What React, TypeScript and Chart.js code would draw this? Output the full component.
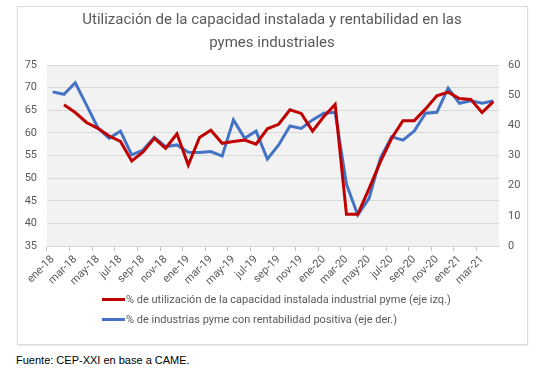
import React, { useEffect, useRef } from 'react';
import { Chart, registerables } from 'chart.js';

Chart.register(...registerables);

const categories = [
  'ene-18', 'feb-18', 'mar-18', 'abr-18', 'may-18', 'jun-18', 'jul-18', 'ago-18', 'sep-18', 'oct-18', 'nov-18', 'dic-18',
  'ene-19', 'feb-19', 'mar-19', 'abr-19', 'may-19', 'jun-19', 'jul-19', 'ago-19', 'sep-19', 'oct-19', 'nov-19', 'dic-19',
  'ene-20', 'feb-20', 'mar-20', 'abr-20', 'may-20', 'jun-20', 'jul-20', 'ago-20', 'sep-20', 'oct-20', 'nov-20', 'dic-20',
  'ene-21', 'feb-21', 'mar-21', 'abr-21',
];

// % utilización capacidad instalada (eje izq.)
const capacidad = [
  null, 66.2, 64.5, 62.3, 61.0, 59.3, 58.1, 53.8, 55.8, 58.8, 56.6, 59.8,
  52.9, 59.0, 60.6, 57.7, 58.1, 58.4, 57.5, 60.9, 61.9, 65.1, 64.3, 60.4,
  63.6, 66.3, 42.0, 42.0, 47.7, 53.6, 58.8, 62.7, 62.7, 65.3, 68.2, 69.0,
  67.6, 67.4, 64.5, 66.9,
];

// % industrias pyme con rentabilidad positiva (eje der.)
const rentabilidad = [
  51.1, 50.3, 54.1, 46.7, 39.2, 35.7, 38.1, 30.2, 31.8, 36.0, 32.9, 33.5,
  31.1, 31.0, 31.3, 29.8, 41.8, 35.7, 38.1, 28.8, 33.5, 39.8, 39.0, 41.8,
  44.0, 44.3, 20.5, 10.3, 15.8, 29.1, 36.2, 35.1, 38.1, 44.0, 44.3, 52.3,
  47.3, 48.1, 47.3, 48.1,
];

const titleLines = ['Utilización de la capacidad instalada y rentabilidad en las', 'pymes industriales'];
const legendLabels = [
  '% de utilización de la capacidad instalada industrial pyme (eje izq.)',
  '% de industrias pyme con rentabilidad positiva (eje der.)',
];
const source = 'Fuente: CEP-XXI en base a CAME.';

const RED = '#c00000';
const BLUE = '#4472c4';
const TEXT = '#595959';
const GRID = '#d9d9d9';

const bgPlugin = {
  id: 'plotBg',
  beforeDraw(chart: any) {
    const { ctx, chartArea } = chart;
    if (!chartArea) return;
    ctx.save();
    ctx.fillStyle = '#f2f2f2';
    ctx.fillRect(chartArea.left, chartArea.top, chartArea.right - chartArea.left, chartArea.bottom - chartArea.top);
    ctx.restore();
  },
};

export default function App() {
  const ref = useRef<HTMLCanvasElement | null>(null);

  useEffect(() => {
    if (!ref.current) return;
    const chart = new Chart(ref.current, {
      type: 'line',
      data: {
        labels: categories,
        datasets: [
          {
            label: legendLabels[0],
            data: capacidad,
            borderColor: RED,
            backgroundColor: RED,
            borderWidth: 3,
            pointRadius: 0,
            tension: 0,
            yAxisID: 'y',
          },
          {
            label: legendLabels[1],
            data: rentabilidad,
            borderColor: BLUE,
            backgroundColor: BLUE,
            borderWidth: 3,
            pointRadius: 0,
            tension: 0,
            yAxisID: 'y1',
          },
        ],
      },
      options: {
        animation: false,
        responsive: false,
        maintainAspectRatio: false,
        layout: { padding: 0 },
        plugins: {
          legend: { display: false },
          tooltip: { enabled: false },
          title: {
            display: true,
            text: titleLines,
            color: TEXT,
            font: { family: 'Roboto', size: 15, weight: 'normal', lineHeight: 1.5 },
            padding: { top: 3, bottom: 11 },
          },
        },
        scales: {
          x: {
            type: 'category',
            offset: true,
            grid: {
              display: true,
              offset: true,
              drawOnChartArea: false,
              drawTicks: true,
              tickLength: 5,
              tickColor: (ctx: any) => (ctx.index % 2 === 0 ? '#bfbfbf' : 'rgba(0,0,0,0)'),
            },
            border: { display: true, color: GRID },
            ticks: {
              autoSkip: false,
              minRotation: 45,
              maxRotation: 45,
              padding: 2,
              color: TEXT,
              font: { family: 'Roboto', size: 11 },
              callback: (_v: any, i: number) => (i % 2 === 0 ? categories[i] : ''),
            },
            afterFit: (s: any) => { s.height = 50; },
          },
          y: {
            position: 'left',
            min: 35,
            max: 75,
            ticks: { stepSize: 5, color: TEXT, padding: 10, font: { family: 'Roboto', size: 11 } },
            grid: { color: GRID, drawTicks: false },
            border: { display: false },
            afterFit: (s: any) => { s.width = 30; },
          },
          y1: {
            position: 'right',
            min: 0,
            max: 60,
            ticks: { stepSize: 10, color: TEXT, padding: 9, font: { family: 'Roboto', size: 11 } },
            grid: { drawOnChartArea: false, drawTicks: false },
            border: { display: false },
            afterFit: (s: any) => { s.width = 28; },
          },
        },
      },
      plugins: [bgPlugin],
    });
    return () => chart.destroy();
  }, []);

  return (
    <div style={{ position: 'absolute', left: 0, top: 0, width: 559, height: 382, background: '#fff', overflow: 'hidden' }}>
      <div
        style={{
          position: 'absolute', left: 17, top: 6, width: 509, height: 337,
          border: '1px solid #dcdcdc', boxShadow: '0 1px 2px rgba(0,0,0,0.08)', background: '#fff',
        }}
      />
      <canvas ref={ref} width={510} height={290} style={{ position: 'absolute', left: 17, top: 6, width: 510, height: 290 }} />
      {legendLabels.map((t, i) => (
        <div
          key={i}
          style={{
            position: 'absolute', left: 102, top: 291 + i * 20, height: 16, display: 'flex', alignItems: 'center',
            fontFamily: 'Roboto', fontSize: 11, color: TEXT, whiteSpace: 'nowrap',
          }}
        >
          <span style={{ display: 'inline-block', width: 23, height: 3, background: i === 0 ? RED : BLUE, marginRight: 1 }} />
          <span>{t}</span>
        </div>
      ))}
      <div
        style={{
          position: 'absolute', left: 16, top: 354, fontFamily: '"Liberation Sans", Arial, sans-serif', fontSize: 11,
          color: '#000', whiteSpace: 'nowrap',
        }}
      >
        {source}
      </div>
    </div>
  );
}
